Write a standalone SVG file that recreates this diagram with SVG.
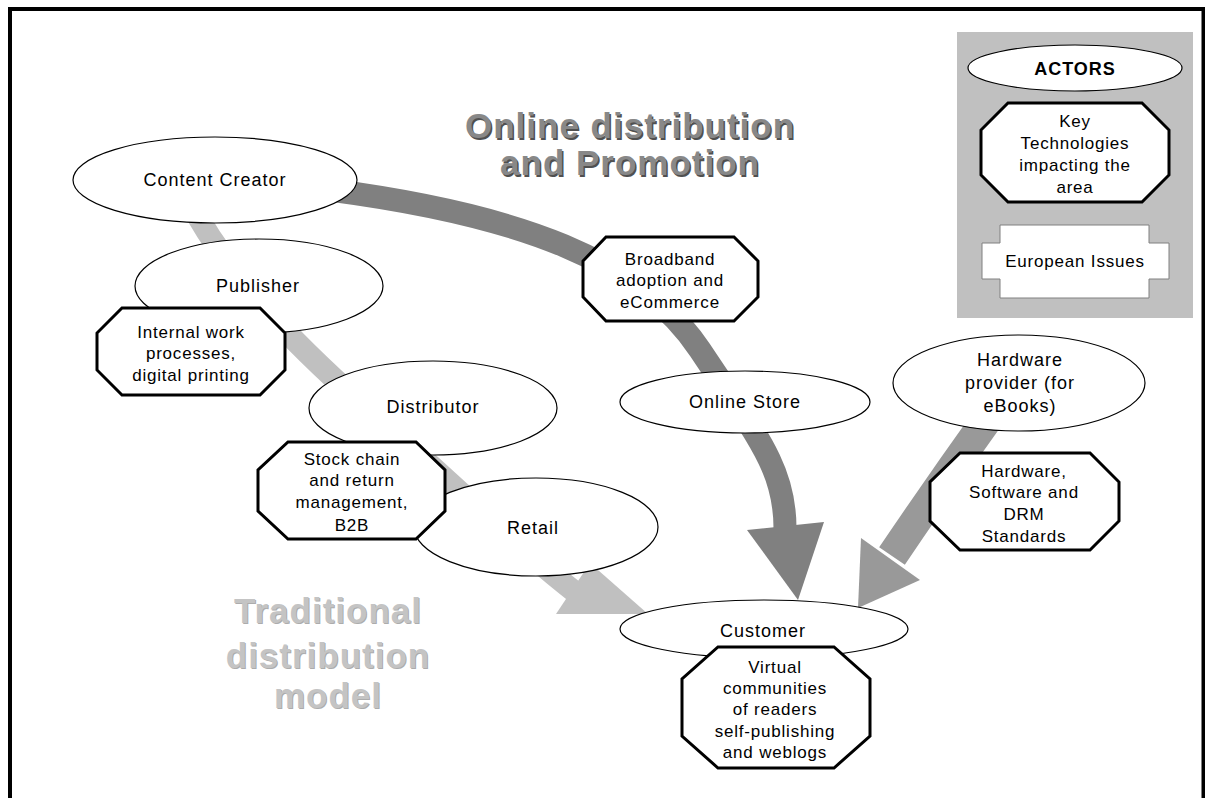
<svg xmlns="http://www.w3.org/2000/svg" width="1205" height="798" viewBox="0 0 1205 798">
<style>
.ell{fill:#fff;stroke:#000;stroke-width:1.2}
.oct{fill:#fff;stroke:#000;stroke-width:3;stroke-linejoin:miter}
.t{font-family:"Liberation Sans",Arial,sans-serif;font-size:18px;letter-spacing:1px;fill:#000;text-anchor:middle;dominant-baseline:central}
.o{font-family:"Liberation Sans",Arial,sans-serif;font-size:17px;letter-spacing:0.8px;fill:#000;text-anchor:middle;dominant-baseline:central}
.title{font-family:"Liberation Sans",Arial,sans-serif;font-size:35px;font-weight:bold;letter-spacing:1px;text-anchor:middle}
</style>
<rect width="1205" height="798" fill="#fff"/>
<path d="M10,800 V9 H1203.5 V800" fill="none" stroke="#000" stroke-width="4"/>

<g id="titles">
<text class="title" x="631.5" y="139.5" fill="#505050">Online distribution</text>
<text class="title" x="631.5" y="176.5" fill="#505050">and Promotion</text>
<text class="title" x="630" y="138" fill="#888">Online distribution</text>
<text class="title" x="630" y="175" fill="#888">and Promotion</text>
<text class="title" x="329" y="624" fill="#acacac">Traditional</text>
<text class="title" x="329" y="669" fill="#acacac">distribution</text>
<text class="title" x="329" y="709" fill="#acacac">model</text>
<text class="title" x="328" y="623" fill="#c4c4c4">Traditional</text>
<text class="title" x="328" y="668" fill="#c4c4c4">distribution</text>
<text class="title" x="328" y="708" fill="#c4c4c4">model</text>
</g>

<g id="connectors">
<path d="M195,212 C240,290 300,350 380,420 S520,550 580,596" fill="none" stroke="#c0c0c0" stroke-width="22"/>
<polygon points="556,614 590,563 648,614" fill="#c0c0c0"/>
<path d="M330,190 C520,215 640,260 700,350 S785,470 785,528" fill="none" stroke="#808080" stroke-width="23"/>
<polygon points="747,530 824,522 798,600" fill="#808080"/>
<path d="M988,418 Q940,485 892,556" fill="none" stroke="#999" stroke-width="31"/>
<polygon points="861,538 920,580 858,608" fill="#999"/>
</g>

<g id="content-creator"><ellipse class="ell" cx="215" cy="180" rx="142" ry="43"/><text class="t" x="215" y="180">Content Creator</text></g>
<g id="publisher"><ellipse class="ell" cx="259" cy="286" rx="124" ry="47"/><text class="t" x="258" y="286">Publisher</text></g>
<g id="internal-work"><polygon class="oct" points="122,308 260,308 285,333 285,370 260,395 122,395 97,370 97,333"/>
<text class="o" x="191" y="332">Internal work</text><text class="o" x="191" y="353">processes,</text><text class="o" x="191" y="375">digital printing</text></g>
<g id="distributor"><ellipse class="ell" cx="433" cy="408" rx="124" ry="47"/><text class="t" x="433" y="407">Distributor</text></g>
<g id="retail"><ellipse class="ell" cx="536" cy="527" rx="122" ry="49"/><text class="t" x="533" y="528">Retail</text></g>
<g id="stock-chain"><polygon class="oct" points="288,442 416,442 445,470 445,511 416,539 288,539 258,511 258,470"/>
<text class="o" x="352" y="459">Stock chain</text><text class="o" x="352" y="480">and return</text><text class="o" x="352" y="502">management,</text><text class="o" x="352" y="525">B2B</text></g>
<g id="broadband"><polygon class="oct" points="606,237 734,237 758,261 758,297 734,321 606,321 583,297 583,261"/>
<text class="o" x="670" y="259">Broadband</text><text class="o" x="670" y="280">adoption and</text><text class="o" x="670" y="302">eCommerce</text></g>
<g id="online-store"><ellipse class="ell" cx="745" cy="402" rx="125" ry="31"/><text class="t" x="745" y="402">Online Store</text></g>
<g id="hardware-provider"><ellipse class="ell" cx="1019" cy="383" rx="126" ry="48"/>
<text class="t" x="1020" y="360">Hardware</text><text class="t" x="1020" y="383">provider (for</text><text class="t" x="1020" y="406">eBooks)</text></g>
<g id="hardware-standards"><polygon class="oct" points="960,453 1090,453 1119,482 1119,521 1090,550 960,550 930,521 930,482"/>
<text class="o" x="1024" y="471">Hardware,</text><text class="o" x="1024" y="492">Software and</text><text class="o" x="1024" y="514">DRM</text><text class="o" x="1024" y="536">Standards</text></g>
<g id="customer"><ellipse class="ell" cx="764" cy="629" rx="144" ry="29"/><text class="t" x="763" y="631">Customer</text></g>
<g id="virtual-communities"><polygon class="oct" points="718,647 834,647 870,679 870,736 834,768 718,768 682,736 682,679"/>
<text class="o" x="775" y="667">Virtual</text><text class="o" x="775" y="688">communities</text><text class="o" x="775" y="709">of readers</text><text class="o" x="775" y="731">self-publishing</text><text class="o" x="775" y="752">and weblogs</text></g>

<g id="legend">
<rect x="957" y="32" width="236" height="286" fill="#c0c0c0"/>
<g id="legend-actors"><ellipse class="ell" cx="1075" cy="68" rx="107" ry="23"/><text class="t" x="1075" y="69" font-weight="bold">ACTORS</text></g>
<g id="legend-tech"><polygon class="oct" points="1008,103 1142,103 1169,130 1169,175 1142,202 1008,202 981,175 981,130"/>
<text class="o" x="1075" y="121">Key</text><text class="o" x="1075" y="143">Technologies</text><text class="o" x="1075" y="165">impacting the</text><text class="o" x="1075" y="187">area</text></g>
<g id="legend-european"><polygon points="1000,225 1149,225 1149,243 1169,243 1169,279 1149,279 1149,298 1000,298 1000,279 982,279 982,243 1000,243" fill="#fff" stroke="#808080" stroke-width="1"/>
<text class="o" x="1075" y="261">European Issues</text></g>
</g>
</svg>
